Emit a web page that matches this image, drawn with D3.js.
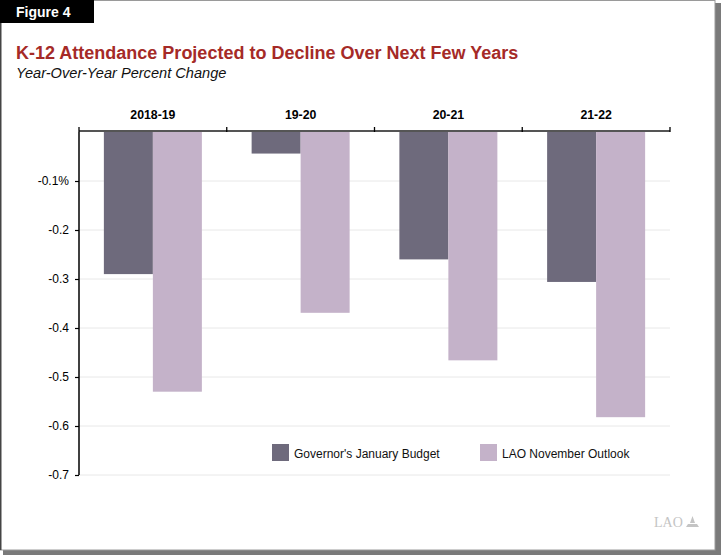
<!DOCTYPE html>
<html>
<head>
<meta charset="utf-8">
<script src="https://cdn.jsdelivr.net/npm/d3@7"></script>
<style>
  body { margin: 0; background: #fff; }
  svg { display: block; font-family: "Liberation Sans", Arial, Helvetica, sans-serif; }
</style>
</head>
<body>
<div id="chart"></div>
<script>
// Данные
const years = ['2018-19', '19-20', '20-21', '21-22'];
const seriesNames = ["Governor's January Budget", 'LAO November Outlook'];
const governorValues = [-0.29, -0.044, -0.26, -0.306];
const laoValues = [-0.53, -0.369, -0.466, -0.582];
const yTicks = [-0.1, -0.2, -0.3, -0.4, -0.5, -0.6, -0.7];
const yTickLabels = ['-0.1%', '-0.2', '-0.3', '-0.4', '-0.5', '-0.6', '-0.7'];
const colors = ['#6e6a7c', '#c4b2c9'];

const width = 721, height = 555;
const svg = d3.select('#chart').append('svg')
    .attr('width', width)
    .attr('height', height);

// Рамка с тенью
svg.append('rect').attr('x', 3).attr('y', 3).attr('width', 718).attr('height', 552).attr('fill', '#7a7a7a');
svg.append('rect').attr('x', 0.5).attr('y', 0.5).attr('width', 714.5).attr('height', 549.5)
    .attr('fill', '#fff').attr('stroke', '#9a9a9a').attr('stroke-width', 1);
svg.append('line').attr('x1', 0.75).attr('x2', 0.75).attr('y1', 0).attr('y2', 550)
    .attr('stroke', '#444').attr('stroke-width', 1.5);

// Метка "Figure 4"
svg.append('rect').attr('x', 0).attr('y', 0).attr('width', 94).attr('height', 23).attr('fill', '#000');
svg.append('text').attr('x', 16).attr('y', 17).attr('fill', '#fff')
    .attr('font-size', 14).attr('font-weight', 'bold').text('Figure 4');

// Заголовки
svg.append('text').attr('x', 16).attr('y', 59).attr('fill', '#a52a27')
    .attr('font-size', 18).attr('font-weight', 'bold')
    .text('K-12 Attendance Projected to Decline Over Next Few Years');
svg.append('text').attr('x', 16).attr('y', 78).attr('fill', '#111')
    .attr('font-size', 14.6).attr('font-style', 'italic')
    .text('Year-Over-Year Percent Change');

// Шкалы
const margin = { left: 79, right: 670, top: 132, bottom: 475 };
const x = d3.scaleBand().domain(years).range([margin.left, margin.right]);
const xInner = d3.scaleBand().domain(seriesNames).range([0, 98]);
const y = d3.scaleLinear().domain([0, -0.7]).range([margin.top, margin.bottom]);

// Сетка
svg.append('g').selectAll('line').data(yTicks).join('line')
    .attr('x1', margin.left).attr('x2', margin.right)
    .attr('y1', d => y(d)).attr('y2', d => y(d))
    .attr('stroke', '#e8e8e8').attr('stroke-width', 1);

// Столбцы
const groups = svg.append('g').selectAll('g').data(years).join('g')
    .attr('transform', d => `translate(${x(d) + (x.bandwidth() - 98) / 2},0)`);

groups.selectAll('rect')
    .data((d, i) => [governorValues[i], laoValues[i]].map((v, j) => ({ name: seriesNames[j], value: v, color: colors[j] })))
    .join('rect')
    .attr('x', d => xInner(d.name))
    .attr('width', xInner.bandwidth())
    .attr('y', y(0))
    .attr('height', d => y(d.value) - y(0))
    .attr('fill', d => d.color);

// Ось Y
const yAxis = svg.append('g')
    .attr('transform', `translate(${margin.left},0)`)
    .call(d3.axisLeft(y).tickValues(yTicks).tickSize(4)
        .tickFormat((d, i) => yTickLabels[i]));
yAxis.select('.domain').attr('d', `M0,${y(0)}V${y(-0.7)}`).attr('stroke', '#000').attr('stroke-width', 1.5);
yAxis.selectAll('.tick line').attr('stroke', '#000').attr('stroke-width', 1.2);
yAxis.selectAll('.tick text').attr('font-size', 12).attr('fill', '#000').attr('x', -10)
    .attr('font-family', '"Liberation Sans", Arial, sans-serif');

// Ось X сверху
const xAxis = svg.append('g')
    .attr('transform', `translate(0,${margin.top - 1})`);
xAxis.append('line').attr('x1', margin.left).attr('x2', margin.right)
    .attr('stroke', '#555').attr('stroke-width', 2);
const boundaries = years.map(d => x(d)).concat([margin.right]);
xAxis.selectAll('.bt').data(boundaries).join('line')
    .attr('class', 'bt')
    .attr('x1', d => d).attr('x2', d => d)
    .attr('y1', -4).attr('y2', 1)
    .attr('stroke', '#000').attr('stroke-width', 1.3);
xAxis.selectAll('text').data(years).join('text')
    .attr('x', d => x(d) + x.bandwidth() / 2)
    .attr('y', -12)
    .attr('text-anchor', 'middle')
    .attr('font-size', 12.3).attr('font-weight', 'bold')
    .text(d => d);

// Легенда
const legendX = [272, 480];
const legend = svg.append('g').selectAll('g').data(seriesNames).join('g')
    .attr('transform', (d, i) => `translate(${legendX[i]},444)`);
legend.append('rect').attr('width', 17).attr('height', 17).attr('fill', (d, i) => colors[i]);
legend.append('text').attr('x', 22).attr('y', 13.5).attr('font-size', 12).attr('fill', '#111').text(d => d);

// Логотип LAO
const logo = svg.append('g').attr('transform', 'translate(654,527)');
logo.append('text').attr('font-family', '"Liberation Serif", "DejaVu Serif", serif')
    .attr('font-size', 14).attr('fill', '#c4c4c4').text('LAO');
logo.append('path').attr('d', 'M32,0 L45,0 L43,-3 L34,-3 Z M36,-4 L38.5,-11 L41,-4 Z')
    .attr('fill', '#c4c4c4');
</script>
</body>
</html>
